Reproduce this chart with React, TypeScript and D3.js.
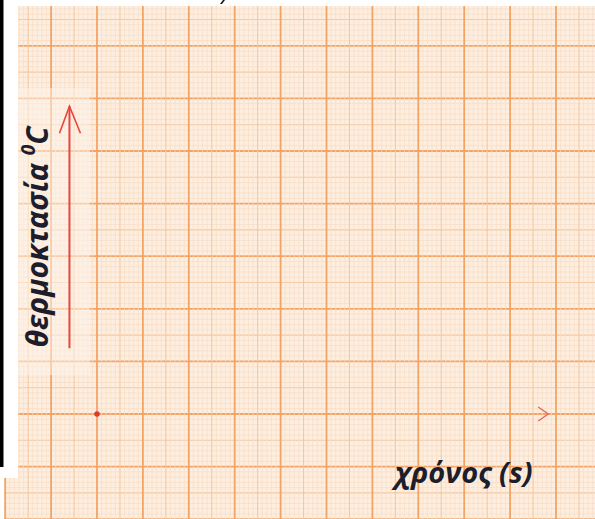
import React from "react";
import * as d3 from "d3";

const W = 595;
const H = 519;

// grid in millimetres (paper units); origin at the axes' crossing
const xMmRange = [-20, 112];
const yMmRange = [-22, 80];
const xLabel = "χρόνος (s)";
const yLabelMain = "θερμοκτασία ";
const yLabelSup = "0";
const yLabelUnit = "C";
// red y-axis arrow (mm)
const yArrowX = -6;
const yArrowFrom = 12.5;
const yArrowTo = 58.5;
// x-axis arrowhead tip (mm)
const xArrowTip = 98.3;

export default function App() {
  const x = d3.scaleLinear().domain([0, 10]).range([97, 97 + 45.9]);
  const y = d3.scaleLinear().domain([0, 10]).range([414, 414 - 52.6]);

  const xs = d3.range(xMmRange[0], xMmRange[1] + 1);
  const ys = d3.range(yMmRange[0], yMmRange[1] + 1);

  const style = (v: number) => {
    const m = ((v % 10) + 10) % 10;
    if (m === 0) return { stroke: "#f2a466", sw: 1.8 };
    if (m === 5) return { stroke: "#f5c8a0", sw: 1.1 };
    return { stroke: "#f8dcc4", sw: 0.7 };
  };

  const order = (v: number) => {
    const m = ((v % 10) + 10) % 10;
    return m === 0 ? 2 : m === 5 ? 1 : 0;
  };
  const xsSorted = [...xs].sort((a, b) => order(a) - order(b));
  const ysSorted = [...ys].sort((a, b) => order(a) - order(b));

  const ax = x(yArrowX);
  const ay1 = y(yArrowFrom);
  const ay2 = y(yArrowTo);
  const tipX = x(xArrowTip);
  const oy = y(0);

  return (
    <svg width={W} height={H} style={{ position: "absolute", left: 0, top: 0, display: "block" }}>
      <defs>
        <clipPath id="paper">
          <rect x={18} y={6} width={W - 18} height={H - 6} />
          <rect x={4} y={478} width={14} height={H - 478} />
        </clipPath>
      </defs>
      <rect x={0} y={0} width={W} height={H} fill="#ffffff" />
      <rect x={0} y={0} width={3.5} height={467} fill="#000000" />
      <path d="M223,0 L225,0 L222,4 L220,4 Z" fill="#111" />
      <g clipPath="url(#paper)">
        <rect x={0} y={0} width={W} height={H} fill="#fdeee0" />
        {ysSorted.map((v) => {
          const s = style(v);
          return (
            <line key={"h" + v} x1={0} x2={W} y1={y(v)} y2={y(v)} stroke={s.stroke} strokeWidth={s.sw} />
          );
        })}
        {xsSorted.map((v) => {
          const s = style(v);
          return (
            <line key={"v" + v} x1={x(v)} x2={x(v)} y1={0} y2={H} stroke={s.stroke} strokeWidth={s.sw} />
          );
        })}
        {/* pasted label patch */}
        <rect x={18} y={88} width={72} height={287} fill="#fdf3ea" opacity={0.5} />
      </g>
      {/* y-axis red arrow */}
      <line x1={ax} x2={ax} y1={ay1} y2={ay2} stroke="#e8463c" strokeWidth={2} />
      <path
        d={`M${ax - 10},${ay2 + 27} L${ax},${ay2} L${ax + 11},${ay2 + 27}`}
        fill="none"
        stroke="#e8463c"
        strokeWidth={1.6}
      />
      {/* x-axis arrowhead */}
      <path
        d={`M${tipX - 10},${oy - 7} L${tipX},${oy} L${tipX - 10},${oy + 7}`}
        fill="none"
        stroke="#e8665a"
        strokeWidth={1.4}
      />
      <circle cx={x(0)} cy={oy} r={2.8} fill="#e03a30" />
      {/* labels */}
      <text
        transform={`translate(48,${(352 + 122) / 2}) rotate(-90)`}
        textAnchor="middle"
        fontFamily="'Open Sans', sans-serif"
        fontWeight="bold"
        fontStyle="italic"
        fontSize={30}
        fill="#1d1d2c"
      >
        {yLabelMain}
        <tspan fontSize={19} dy={-13}>{yLabelSup}</tspan>
        <tspan dy={13}>{yLabelUnit}</tspan>
      </text>
      <text
        x={395}
        y={483}
        fontFamily="'Open Sans', sans-serif"
        fontWeight="bold"
        fontStyle="italic"
        fontSize={29}
        fill="#1d1d2c"
      >
        {xLabel}
      </text>
    </svg>
  );
}
